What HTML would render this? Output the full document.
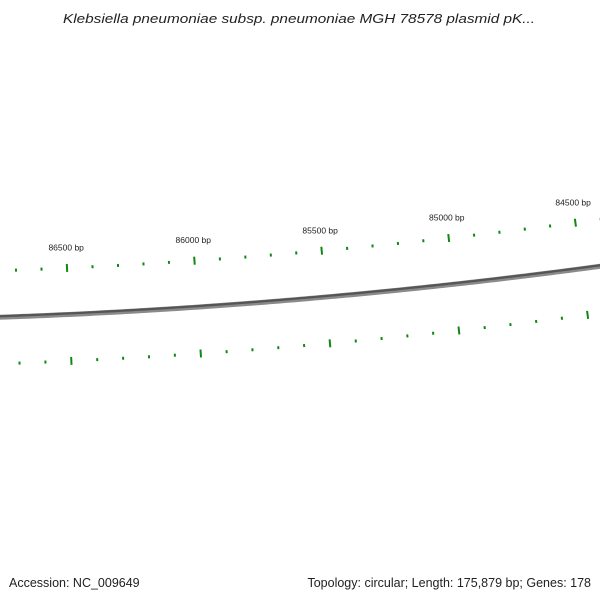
<!DOCTYPE html>
<html><head><meta charset="utf-8"><style>
html,body{margin:0;padding:0;background:#fff;}
svg{display:block;font-family:"Liberation Sans","DejaVu Sans",sans-serif;}
</style></head><body>
<svg id="map" width="600" height="600" viewBox="0 0 600 600">
<text x="299" y="23" text-anchor="middle" font-size="13" font-style="italic" fill="#222" textLength="472" lengthAdjust="spacingAndGlyphs">Klebsiella pneumoniae subsp. pneumoniae MGH 78578 plasmid pK...</text>
<g id="backbone"></g>
<g id="ticks"></g>
<g id="labels"></g>
<text x="9" y="587" font-size="12.5" fill="#222">Accession: NC_009649</text>
<text x="591" y="587" font-size="12.5" fill="#222" text-anchor="end">Topology: circular; Length: 175,879 bp; Genes: 178</text>
</svg>
<script>
const majorTicks = [86500, 86000, 85500, 85000, 84500];
const tickLabels = ["86500 bp", "86000 bp", "85500 bp", "85000 bp", "84500 bp"];
const viewRange = [84300, 86800];
const tickStep = 100;

const NS = "http://www.w3.org/2000/svg";
const cx = -213, cy = -5748;
function ang(bp){ return 0.04651 + (86500 - bp) * 4.239e-5; }
function pt(bp, r){ const t = ang(bp); return [cx + r*Math.sin(t), cy + r*Math.cos(t)]; }

const bb = document.getElementById('backbone');
function arc(r, w, col){
  let d = "";
  for (let bp = viewRange[1]; bp >= viewRange[0]; bp -= 20){
    const p = pt(bp, r);
    d += (d ? "L" : "M") + p[0].toFixed(2) + "," + p[1].toFixed(2);
  }
  const el = document.createElementNS(NS, 'path');
  
  
  el.setAttribute('d', d);
  el.setAttribute('fill', 'none');
  el.setAttribute('stroke', col);
  el.setAttribute('stroke-width', w);
  bb.appendChild(el);
}
arc(6069, 5, '#8a8a8a');
arc(6068, 2.2, '#555');

const tg = document.getElementById('ticks');
function line(bp, r1, r2, w){
  const a = pt(bp, r1), b = pt(bp, r2);
  const el = document.createElementNS(NS, 'line');
  
  
  el.setAttribute('x1', a[0]); el.setAttribute('y1', a[1]);
  el.setAttribute('x2', b[0]); el.setAttribute('y2', b[1]);
  el.setAttribute('stroke', '#118811');
  el.setAttribute('stroke-width', w);
  tg.appendChild(el);
}
for (let bp = Math.ceil(viewRange[0]/tickStep)*tickStep; bp <= viewRange[1]; bp += tickStep){
  const major = majorTicks.includes(bp);
  if (major){ line(bp, 6018.5, 6026.5, 2); line(bp, 6111.5, 6119.5, 2); }
  else { line(bp, 6021, 6024, 2); line(bp, 6114, 6117, 2); }
}

const lg = document.getElementById('labels');
majorTicks.forEach((bp, i) => {
  const p = pt(bp, 6005);
  const t = document.createElementNS(NS, 'text');
  
  
  t.setAttribute('x', p[0]); t.setAttribute('y', p[1]);
  t.setAttribute('text-anchor', 'middle');
  t.setAttribute('font-size', '8.5');
  t.setAttribute('fill', '#222');
  t.textContent = tickLabels[i];
  lg.appendChild(t);
});
</script>
</body></html>
